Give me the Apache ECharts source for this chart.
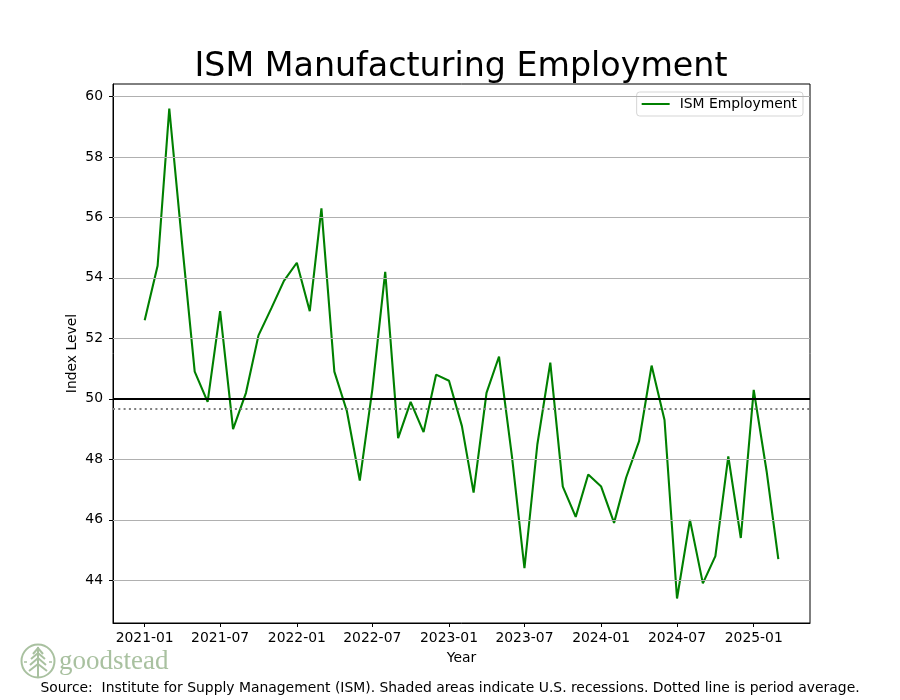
<!DOCTYPE html>
<html>
<head>
<meta charset="utf-8">
<script src="https://cdn.jsdelivr.net/npm/echarts@6/dist/echarts.min.js"></script>
<style>html,body{margin:0;padding:0;background:#fff}#c{width:900px;height:700px}</style>
</head>
<body>
<div id="c"></div>
<script>
// ---- Data ----
const months = [
  '2021-01','2021-02','2021-03','2021-04','2021-05','2021-06','2021-07','2021-08','2021-09','2021-10','2021-11','2021-12',
  '2022-01','2022-02','2022-03','2022-04','2022-05','2022-06','2022-07','2022-08','2022-09','2022-10','2022-11','2022-12',
  '2023-01','2023-02','2023-03','2023-04','2023-05','2023-06','2023-07','2023-08','2023-09','2023-10','2023-11','2023-12',
  '2024-01','2024-02','2024-03','2024-04','2024-05','2024-06','2024-07','2024-08','2024-09','2024-10','2024-11','2024-12',
  '2025-01','2025-02','2025-03'
];
const employment = [
  52.6, 54.4, 59.6, 55.1, 50.9, 49.9, 52.9, 49.0, 50.2, 52.1, 53.0, 53.9,
  54.5, 52.9, 56.3, 50.9, 49.6, 47.3, 50.3, 54.2, 48.7, 49.9, 48.9, 50.8,
  50.6, 49.1, 46.9, 50.2, 51.4, 48.1, 44.4, 48.5, 51.2, 47.1, 46.1, 47.5,
  47.1, 45.9, 47.4, 48.6, 51.1, 49.3, 43.4, 46.0, 43.9, 44.8, 48.1, 45.4,
  50.3, 47.6, 44.7
];
const xTickLabels = ['2021-01','2021-07','2022-01','2022-07','2023-01','2023-07','2024-01','2024-07','2025-01'];
const yTicks = [44, 46, 48, 50, 52, 54, 56, 58, 60];
const thresholdLevel = 50;
const seriesName = 'ISM Employment';
const titleText = 'ISM Manufacturing Employment';
const sourceText = 'Source:  Institute for Supply Management (ISM). Shaded areas indicate U.S. recessions. Dotted line is period average.';

// ---- Helpers ----
function toTs(s) { const p = s.split('-'); return Date.UTC(+p[0], +p[1] - 1, +(p[2] || 1)); }
function fmt(v) { const d = new Date(v); return d.getUTCFullYear() + '-' + String(d.getUTCMonth() + 1).padStart(2, '0'); }

const seriesData = months.map((m, i) => [toTs(m), employment[i]]);
const xFirst = toTs(months[0]), xLast = toTs(months[months.length - 1]);
const xSpan = xLast - xFirst;
const yMinD = Math.min(...employment), yMaxD = Math.max(...employment);
const ySpan = yMaxD - yMinD;
const xTickVals = xTickLabels.map(toTs);

const FONT = 'DejaVu Sans';
const FS = 13.9;
const sage = '#a9c1a0';

const chart = echarts.init(document.getElementById('c'), null, { renderer: 'canvas' });
chart.setOption({
  animation: false,
  backgroundColor: '#fff',
  textStyle: { fontFamily: FONT },
  grid: { left: 113, right: 90, top: 84, bottom: 77, show: true, borderColor: '#000', borderWidth: 1, backgroundColor: 'transparent' },
  legend: {
    data: [seriesName],
    right: 97, top: 92,
    orient: 'vertical',
    icon: 'rect',
    itemWidth: 28, itemHeight: 2,
    padding: [5, 6, 5, 5],
    borderColor: '#d5d5d5', borderWidth: 1, borderRadius: 3,
    backgroundColor: 'rgba(255,255,255,0.85)',
    textStyle: { fontFamily: FONT, fontSize: FS, color: '#000', padding: [0, 0, 0, 5] }
  },
  xAxis: {
    type: 'value',
    min: xFirst - 0.05 * xSpan,
    max: xLast + 0.05 * xSpan,
    splitLine: { show: false },
    axisLine: { show: true, onZero: false, lineStyle: { color: '#000', width: 1 } },
    axisTick: { show: true, customValues: xTickVals, length: 4, lineStyle: { color: '#000' } },
    axisLabel: { customValues: xTickVals, formatter: fmt, color: '#000', fontSize: FS, fontFamily: FONT, margin: 8, hideOverlap: false },
    name: 'Year', nameLocation: 'middle', nameGap: 28, nameMoveOverlap: false,
    nameTextStyle: { fontFamily: FONT, fontSize: FS, color: '#000' }
  },
  yAxis: {
    type: 'value',
    min: yMinD - 0.05 * ySpan,
    max: yMaxD + 0.05 * ySpan,
    splitLine: { show: false },
    axisLine: { show: true, onZero: false, lineStyle: { color: '#000', width: 1 } },
    axisTick: { show: true, customValues: yTicks, length: 4, lineStyle: { color: '#000' } },
    axisLabel: { customValues: yTicks, color: '#000', fontSize: FS, fontFamily: FONT, margin: 10 },
    name: 'Index Level', nameLocation: 'middle', nameGap: 34, nameRotate: 90, nameMoveOverlap: false,
    nameTextStyle: { fontFamily: FONT, fontSize: FS, color: '#000' }
  },
  series: [
    {
      name: 'grid', type: 'line', data: [], z: 1, silent: true,
      markLine: {
        silent: true, symbol: 'none', label: { show: false },
        lineStyle: { color: '#b0b0b0', width: 1.1, type: 'solid' },
        data: yTicks.map(v => ({ yAxis: v }))
      }
    },
    {
      name: seriesName, type: 'line', data: seriesData, z: 3,
      showSymbol: false, symbol: 'none',
      lineStyle: { color: '#008000', width: 2.1 },
      itemStyle: { color: '#008000' },
      markLine: {
        silent: true, symbol: 'none', label: { show: false },
        data: [
          { yAxis: thresholdLevel, lineStyle: { color: '#000', width: 2.1, type: 'solid' } },
          { type: 'average', lineStyle: { color: '#808080', width: 2, type: [2, 3.3] } }
        ]
      }
    }
  ],
  graphic: [
    { type: 'text', x: 461, y: 67, style: { text: titleText, font: '33.3px "DejaVu Sans"', fill: '#000', textAlign: 'center', textVerticalAlign: 'middle' } },
    { type: 'text', x: 450, y: 688, style: { text: sourceText, font: FS + 'px "DejaVu Sans"', fill: '#000', textAlign: 'center', textVerticalAlign: 'middle' } },
    { type: 'circle', shape: { cx: 38, cy: 661, r: 16.5 }, style: { fill: 'none', stroke: sage, lineWidth: 2 } },
    { type: 'line', shape: { x1: 38, y1: 647, x2: 38, y2: 677 }, style: { stroke: sage, lineWidth: 2 } },
    { type: 'polyline', shape: { points: [[33, 654], [38, 648], [43, 654]] }, style: { fill: 'none', stroke: sage, lineWidth: 2 } },
    { type: 'polyline', shape: { points: [[31, 659], [38, 653], [45, 659]] }, style: { fill: 'none', stroke: sage, lineWidth: 2 } },
    { type: 'polyline', shape: { points: [[30, 665], [38, 658], [46, 665]] }, style: { fill: 'none', stroke: sage, lineWidth: 2 } },
    { type: 'polyline', shape: { points: [[29, 671], [38, 664], [47, 671]] }, style: { fill: 'none', stroke: sage, lineWidth: 2 } },
    { type: 'line', shape: { x1: 24, y1: 662, x2: 27, y2: 662 }, style: { stroke: sage, lineWidth: 1.5 } },
    { type: 'line', shape: { x1: 49, y1: 662, x2: 52, y2: 662 }, style: { stroke: sage, lineWidth: 1.5 } },
    { type: 'text', x: 59, y: 662, style: { text: 'goodstead', font: '27px "Liberation Serif", "DejaVu Serif", serif', fill: sage, textAlign: 'left', textVerticalAlign: 'middle' } }
  ]
});
</script>
</body>
</html>
